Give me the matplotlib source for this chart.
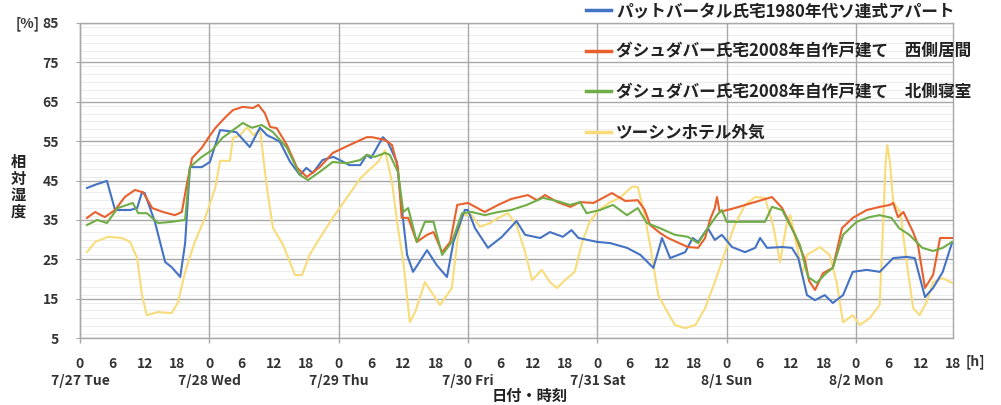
import matplotlib
matplotlib.use("Agg")
import matplotlib.pyplot as plt
from matplotlib.ticker import MultipleLocator, FixedLocator
import matplotlib.transforms as mtrans

plt.rcParams['font.family'] = ['Noto Sans CJK JP', 'DejaVu Sans']
plt.rcParams['font.weight'] = 'bold'

# ---- data (hours since 7/27 0:00, relative humidity %) ----
blue_h = [1.3, 3, 5, 6.5, 9.3, 10.6, 11.5, 12, 13.9, 15.8, 17, 18.6, 19.5, 20.4, 22.6, 24.1, 26, 29,
          31.5, 33.4, 34.7, 35.8, 37.1, 39, 40.8, 42, 43.2, 45, 47, 48.2, 50, 52, 53.2, 54, 56.2, 57.1,
          58.8, 60, 60.7, 61.8, 64.4, 66.2, 68.1, 69.3, 71.4, 72, 73.3, 75.7, 78.3, 81, 82.6, 85.4,
          87.2, 89.6, 91.2, 92.5, 96, 98.4, 101.5, 104, 106.4, 108, 109.5, 112.3, 113.7, 114.7, 116.5,
          117.8, 119.1, 121, 123.4, 125.3, 126.2, 127.5, 130.3, 132.1, 133.3, 134.9, 136.4, 138.2,
          139.7, 141.6, 143.4, 146, 148.4, 150.9, 153.4, 154.9, 156.8, 158.3, 160.1, 161.8]
blue_v = [43.1, 44, 44.9, 37.5, 37.5, 38, 42, 41.8, 34.5, 24.3, 23, 20.5, 29, 48.4, 48.4, 49.7, 57.8, 57.3,
          53.5, 58.4, 56.5, 55.8, 54.8, 49.7, 46.4, 48.2, 46.9, 50.2, 51, 50.2, 48.9, 48.9, 51.5, 50.7, 56, 54.8,
          49.7, 34.5, 26.1, 21.8, 27.3, 23.5, 20.5, 29.4, 37.5, 37.5, 32.9, 27.9, 30.7, 34.7, 31.2, 30.4,
          31.9, 30.7, 32.4, 30.4, 29.4, 29.1, 27.9, 26.1, 22.8, 30.4, 25.3, 26.8, 30.4, 29.4, 32.9,
          29.9, 31.2, 28.1, 26.8, 27.9, 30.4, 27.9, 28.1, 27.9, 25.3, 15.9, 14.6, 15.9,
          13.9, 15.9, 21.8, 22.3, 21.8, 25.3, 25.6, 25.3, 15.4, 17.7, 21.8, 29.1]

orange_h = [1.3, 2.8, 4.6, 6.5, 8.3, 10.2, 11.7, 13.4, 15.4, 17.6, 18.9, 19.9, 20.8, 22.6, 23.8, 25.1, 27,
            28.4, 30.2, 32.1, 33.1, 34.3, 35.3, 36.5, 38.4, 40.3, 42.1, 44.5, 46.9, 50, 53.2, 54.2, 56.6,
            57.9, 59, 59.7, 60.9, 62.5, 64.4, 65.6, 67.2, 68.7, 70, 72, 75.1, 77.6, 80, 83.1, 84.8, 86.3,
            88.6, 91, 92.8, 95.3, 98.7, 101.2, 103.5, 104.8, 105.8, 107.6, 109.1, 112.8, 114.7, 116,
            116.9, 117.8, 118.2, 118.7, 121.5, 124.7, 128.4, 130.3, 132.7, 133.6, 134.5, 135.3, 136.4,
            137.9, 139.7, 141.4, 143.4, 146, 148.4, 150.3, 150.9, 151.8, 152.8, 154.6, 155.5, 156.8,
            158.3, 159.6, 161.8]
orange_v = [35.5, 37, 35.7, 37.5, 40.8, 42.6, 42, 38, 37, 36.2, 37, 44.6, 50.7, 53.3, 55.8, 58.3, 61.1,
            62.9, 63.7, 63.4, 64.2, 62.1, 58.6, 58.3, 54, 48.2, 45.9, 48.4, 52, 54, 56, 56, 55.3,
            54, 48.2, 35.5, 35.5, 29.4, 31.2, 31.9, 26.8, 29.4, 38.8, 39.3, 37, 38.8, 40.3, 41.3, 40, 41.3,
            39.5, 38.3, 39.5, 39.3, 41.8, 39.8, 40, 37.5, 33.7, 31.7, 30.4, 28.1, 27.9, 30.4,
            35, 38, 40.8, 37, 38, 39.3, 40.8, 38, 31.2, 28, 25, 19.5, 17.2,
            21.5, 22.8, 32.9, 35.5, 37.5, 38.3, 38.8, 39.3, 35.7, 37, 31.9, 28.6, 17.7,
            21, 30.4, 30.4]

green_h = [1.3, 3.2, 5, 7, 9.8, 10.8, 12.4, 14.5, 17, 19.5, 20.4, 22.6, 24.5, 26.4, 28.4, 30.2, 31.9,
           33.7, 35.8, 38.4, 40.8, 42.3, 44.5, 46.9, 49.5, 52, 53.2, 54.7, 56.6, 57.5, 59, 60, 60.9,
           62.5, 64, 65.6, 67.2, 69, 70.9, 72.7, 75.1, 77.6, 80, 82.9, 85.9, 88.5, 90.9, 92.8, 94,
           96.5, 98.9, 101.5, 103.5, 105.2, 107.6, 110.4, 112.8, 114.7, 116.5, 118.2, 119.1, 120,
           127.1, 128.4, 130.3, 132.7, 133.6, 135.1, 136.7, 138.5, 139.7, 141.6, 144.1, 146.5, 148.4,
           150.6, 152, 153.9, 156.3, 158.3, 160.1, 161.8]
green_v = [33.7, 35, 34.2, 38, 39.3, 36.7, 36.7, 34.2, 34.5, 35, 48.4, 51, 52.7, 55.8, 57.8, 59.6, 58.4,
           59.1, 57.3, 53.3, 46.4, 45.1, 47.2, 49.7, 49.4, 50.2, 51.5, 51, 52, 51.5, 47.2, 37, 38,
           29.4, 34.5, 34.5, 26.1, 29.4, 36.7, 37, 36.2, 37, 37.5, 38.8, 40.6, 39.8, 38.8, 39.5, 36.7,
           37.5, 38.8, 36.2, 38, 34.2, 32.9, 31.2, 30.7, 29.1, 32.9, 36.2, 37.5, 34.5,
           34.5, 38.3, 37.5, 31.2, 28.6, 20.5, 19, 21.5, 22.8, 31.2, 34.5, 35.7, 36.2,
           35.5, 32.9, 31.2, 27.9, 27.1, 27.9, 29.4]

yellow_h = [1.3, 2.8, 5.2, 7.8, 9.3, 10.6, 11.5, 12.4, 14.5, 17, 18.2, 19.5, 21.3, 23.2, 25.1, 26, 27.8,
            28.4, 29.7, 31, 32.2, 33.4, 34.7, 35.8, 37.7, 39.9, 41.2, 42.6, 44.5, 46.9, 49.5, 52, 53.5,
            55.3, 56.6, 57.9, 59, 60, 61.2, 62.2, 64, 65.6, 66.8, 68.1, 69, 70, 70.9, 72.7, 74.2, 76.1,
            77.6, 79.4, 81, 82.6, 83.9, 85.7, 87.2, 88.5, 90, 91.8, 93.2, 94.6, 96.2, 98.4, 100.2, 102.4,
            103.5, 104.5, 105.8, 107.3, 108.6, 110.4, 112.3, 114.2, 116, 117.8, 119.7, 121.5, 123.4,
            125.3, 127.1, 128.6, 129.9, 131.2, 131.8, 133.1, 134, 134.9, 137.3, 139.1, 140.4, 141.6,
            143.4, 144.7, 146.5, 148.4, 149, 149.5, 149.8, 150.3, 150.9, 152.2, 153.4, 154.6, 155.8,
            157.1, 158.3, 160.1, 161.8]
yellow_v = [26.8, 29.4, 30.7, 30.4, 29.4, 25.3, 15.9, 10.8, 11.6, 11.3, 14.1, 21.8, 29.4, 35.5, 43.1, 50, 50,
            55.8, 56.5, 58.5, 56.5, 58, 43, 33, 28.6, 21, 21, 26.1, 30.4, 35.5, 40.6, 45.5, 47.5,
            49.7, 52.7, 44.6, 32.9, 24.3, 9, 11.6, 19.2, 15.9, 13.4, 15.9, 17.7, 29.4, 36.2, 36.2, 33.2, 34.2,
            35.5, 36.7, 33.7, 26.8, 19.7, 22.3, 19.2, 17.7, 19.7, 21.8, 29.4, 34.5, 37.5, 39.5, 40.6, 43.4,
            43.4, 38, 28.6, 15.9, 12.6, 8.3, 7.5, 8.3, 12.6, 19.2, 26.8, 33.7, 38.8,
            40.8, 40.6, 33.7, 24.3, 34.5, 36.2, 27.9, 21, 26.1, 28.1, 26.1, 19.2, 9,
            10.8, 8.3, 10, 13.4, 32.9, 49.7, 54, 49.7, 39.5, 37, 24.3, 12.6, 10.8,
            14.1, 19.2, 20.2, 19]

labels = ['パットバータル氏宅1980年代ソ連式アパート',
          'ダシュダバー氏宅2008年自作戸建て\u3000西側居間',
          'ダシュダバー氏宅2008年自作戸建て\u3000北側寝室',
          'ツーシンホテル外気']
day_labels = ['7/27 Tue', '7/28 Wed', '7/29 Thu', '7/30 Fri', '7/31 Sat', '8/1 Sun', '8/2 Mon']
hour_ticks = list(range(0, 163, 6))
y_ticks = [5, 15, 25, 35, 45, 55, 65, 75, 85]

# ---- figure ----
W, H = 1001, 405
fig = plt.figure(figsize=(W / 100, H / 100), dpi=100)
ax = fig.add_axes([80 / W, (H - 338) / H, (953 - 80) / W, (338 - 23) / H])

colors = ['#4472C4', '#E8602C', '#70AD47', '#F9DC7A']
series = [(blue_h, blue_v), (orange_h, orange_v), (green_h, green_v), (yellow_h, yellow_v)]
lines = []
for (hx, hv), c, lab in zip(series, colors, labels):
    ln, = ax.plot(hx, hv, color=c, lw=1.5, label=lab, solid_joinstyle='round', zorder=3)
    lines.append(ln)
lines[3].set_zorder(2.5)

ax.set_xlim(0, 162)
ax.set_ylim(5, 85)
ax.set_yticks(y_ticks)
ax.yaxis.set_minor_locator(MultipleLocator(2))
ax.set_xticks(hour_ticks)
ax.set_xticklabels([str(h % 24) for h in hour_ticks])
ax.xaxis.set_minor_locator(FixedLocator([]))

ax.grid(axis='y', which='major', color='#A8A8A8', lw=1.0)
ax.grid(axis='y', which='minor', color='#EDEDED', lw=0.8)
vtrans = mtrans.blended_transform_factory(ax.transData, ax.transAxes)
for d in range(0, 163, 24):
    ax.plot([d, d], [-0.015, 1], transform=vtrans, color='#A8A8A8', lw=1.0, clip_on=False,
            zorder=2, snap=True, solid_capstyle='butt')
for s in ax.spines.values():
    s.set_color('#A8A8A8')
    s.set_linewidth(1.0)
ax.tick_params(axis='x', length=0, pad=14, labelsize=10, colors='#333333')
ax.tick_params(axis='y', which='major', length=3, color='#A8A8A8', pad=12, labelsize=10, labelcolor='#333333')
ax.tick_params(axis='y', which='minor', length=0)

trans = mtrans.blended_transform_factory(ax.transData, fig.transFigure)
for i, dl in enumerate(day_labels):
    ax.text(i * 24, 1 - 381 / H, dl, transform=trans, ha='center', va='center', fontsize=10, color='#333333')
fig.text(975 / W, 1 - 362 / H, '[h]', ha='center', va='center', fontsize=10, color='#333333')
fig.text(530 / W, 1 - 396 / H, '日付・時刻', ha='center', va='center', fontsize=11, color='#222222')
fig.text(28 / W, 1 - 24 / H, '[%]', ha='center', va='center', fontsize=10, color='#333333')
fig.text(18 / W, 1 - 187 / H, '相\n対\n湿\n度', ha='center', va='center', fontsize=11,
         linespacing=1.05, color='#222222')

leg = fig.legend(handles=lines, labels=labels, loc='upper left', bbox_to_anchor=(586 / W, 1 - 2 / H),
                 frameon=False, fontsize=12, handlelength=1.5, handletextpad=0.3, labelspacing=1.35,
                 borderpad=0, borderaxespad=0)
for t in leg.get_texts():
    t.set_color('#222222')
for l in leg.get_lines():
    l.set_linewidth(2.5)

fig.savefig('out.png', dpi=100)
